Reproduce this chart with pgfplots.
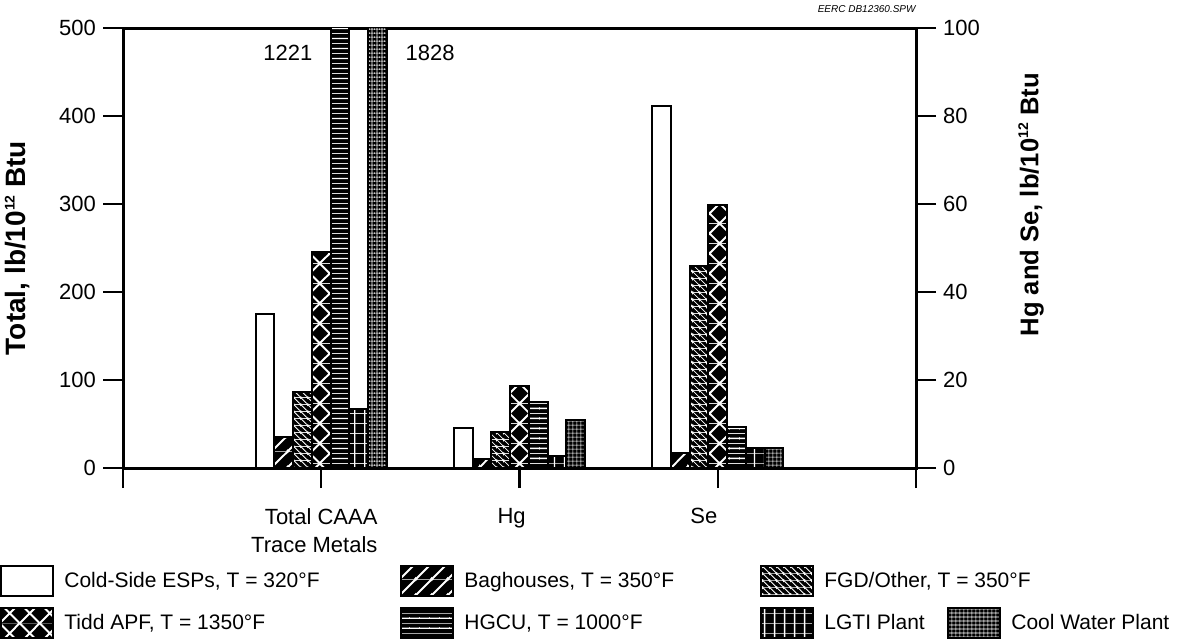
\documentclass[border=0pt]{standalone}
\usepackage{pgfplots}
\pgfplotsset{compat=1.18}
\usetikzlibrary{patterns}
\usepackage{fontspec}
\setmainfont{Liberation Sans}

% white-on-black patterns (inherently coloured)
\pgfdeclarepatterninherentlycolored{bagpat}{\pgfpointorigin}{\pgfpoint{8pt}{8pt}}{\pgfpoint{8pt}{8pt}}{%
  \pgfsetfillcolor{black}\pgfpathrectangle{\pgfpointorigin}{\pgfpoint{8pt}{8pt}}\pgfusepath{fill}%
  \pgfsetstrokecolor{white}\pgfsetlinewidth{1pt}%
  \pgfpathmoveto{\pgfpoint{-1pt}{-1pt}}\pgfpathlineto{\pgfpoint{9pt}{9pt}}%
  \pgfpathmoveto{\pgfpoint{-1pt}{7pt}}\pgfpathlineto{\pgfpoint{1pt}{9pt}}%
  \pgfpathmoveto{\pgfpoint{7pt}{-1pt}}\pgfpathlineto{\pgfpoint{9pt}{1pt}}%
  \pgfusepath{stroke}}
\pgfdeclarepatterninherentlycolored{fgdpat}{\pgfpointorigin}{\pgfpoint{3.5pt}{3.5pt}}{\pgfpoint{3.5pt}{3.5pt}}{%
  \pgfsetfillcolor{black}\pgfpathrectangle{\pgfpointorigin}{\pgfpoint{3.5pt}{3.5pt}}\pgfusepath{fill}%
  \pgfsetstrokecolor{white}\pgfsetlinewidth{0.45pt}%
  \pgfpathmoveto{\pgfpoint{-1pt}{4.5pt}}\pgfpathlineto{\pgfpoint{4.5pt}{-1pt}}%
  \pgfpathmoveto{\pgfpoint{-1pt}{1pt}}\pgfpathlineto{\pgfpoint{1pt}{-1pt}}%
  \pgfpathmoveto{\pgfpoint{2.5pt}{4.5pt}}\pgfpathlineto{\pgfpoint{4.5pt}{2.5pt}}%
  \pgfusepath{stroke}}
\pgfdeclarepatterninherentlycolored{tiddpat}{\pgfpointorigin}{\pgfpoint{10pt}{10pt}}{\pgfpoint{10pt}{10pt}}{%
  \pgfsetfillcolor{black}\pgfpathrectangle{\pgfpointorigin}{\pgfpoint{10pt}{10pt}}\pgfusepath{fill}%
  \pgfsetstrokecolor{white}\pgfsetlinewidth{1pt}%
  \pgfpathmoveto{\pgfpoint{-1pt}{-1pt}}\pgfpathlineto{\pgfpoint{11pt}{11pt}}%
  \pgfpathmoveto{\pgfpoint{-1pt}{11pt}}\pgfpathlineto{\pgfpoint{11pt}{-1pt}}%
  \pgfusepath{stroke}}
\pgfdeclarepatterninherentlycolored{hgcupat}{\pgfpointorigin}{\pgfpoint{5pt}{5pt}}{\pgfpoint{5pt}{5pt}}{%
  \pgfsetfillcolor{black}\pgfpathrectangle{\pgfpointorigin}{\pgfpoint{5pt}{5pt}}\pgfusepath{fill}%
  \pgfsetstrokecolor{white}\pgfsetlinewidth{0.7pt}%
  \pgfpathmoveto{\pgfpoint{-1pt}{2.5pt}}\pgfpathlineto{\pgfpoint{6pt}{2.5pt}}%
  \pgfusepath{stroke}}
\pgfdeclarepatterninherentlycolored{lgtipat}{\pgfpointorigin}{\pgfpoint{5pt}{5pt}}{\pgfpoint{5pt}{5pt}}{%
  \pgfsetfillcolor{black}\pgfpathrectangle{\pgfpointorigin}{\pgfpoint{5pt}{5pt}}\pgfusepath{fill}%
  \pgfsetstrokecolor{white}\pgfsetlinewidth{0.7pt}%
  \pgfpathmoveto{\pgfpoint{2.5pt}{-1pt}}\pgfpathlineto{\pgfpoint{2.5pt}{6pt}}%
  \pgfusepath{stroke}}
\pgfdeclarepatterninherentlycolored{coolpat}{\pgfpointorigin}{\pgfpoint{2.2pt}{2.2pt}}{\pgfpoint{2.2pt}{2.2pt}}{%
  \pgfsetfillcolor{black}\pgfpathrectangle{\pgfpointorigin}{\pgfpoint{2.2pt}{2.2pt}}\pgfusepath{fill}%
  \pgfsetstrokecolor{white}\pgfsetlinewidth{0.3pt}%
  \pgfpathmoveto{\pgfpoint{1.1pt}{-1pt}}\pgfpathlineto{\pgfpoint{1.1pt}{3.2pt}}%
  \pgfpathmoveto{\pgfpoint{-1pt}{1.1pt}}\pgfpathlineto{\pgfpoint{3.2pt}{1.1pt}}%
  \pgfusepath{stroke}}

\newcommand{\supt}{\raisebox{0.75ex}{\fontsize{7}{8}\selectfont 12}}

\pgfplotsset{
  mybar/.style={ybar, bar width=0.0943, bar shift=#1, draw=black, line width=1pt,
    legend image code/.code={\draw[##1] (0pt,-7.5pt) rectangle (26pt,7.5pt);}},
  esp/.style={mybar=-0.283, fill=white},
  bag/.style={mybar=-0.189, pattern=bagpat},
  fgd/.style={mybar=-0.0943, pattern=fgdpat},
  tidd/.style={mybar=0, pattern=tiddpat},
  hgcu/.style={mybar=0.0943, pattern=hgcupat},
  lgti/.style={mybar=0.189, pattern=lgtipat},
  cool/.style={mybar=0.283, pattern=coolpat},
  common/.style={
    at={(0,0)}, anchor=south west,
    scale only axis, width=396.5pt, height=220pt,
    xmin=0, xmax=4,
    tick align=outside, major tick length=10pt,
    axis line style={line width=1.5pt},
    tick style={black, line width=1.2pt},
    tick label style={font=\fontsize{11}{14}\selectfont},
    /pgf/number format/assume math mode=true,
    clip=true, clip mode=individual,
  },
}

\begin{document}
\begin{tikzpicture}
\begin{axis}[common,
  name=ax,
  ymin=0, ymax=500,
  ytick={0,100,200,300,400,500},
  xtick={0,1,2,3,4}, xticklabels={},
  extra x ticks={0.965,1.96,2.93},
  extra x tick labels={{Total CAAA\\Trace Metals},Hg,Se},
  extra x tick style={major tick length=0pt},
  xticklabel style={align=right, yshift=-16.5pt},
  ytick pos=left, xtick pos=bottom,
  every axis y label/.style={at={(axis description cs:-0.133,0.5)}, rotate=90, anchor=center},
  ylabel={\fontsize{14}{16}\selectfont\bfseries Total, lb/10\supt\ Btu},
  legend columns=4,
  legend cell align=left,
  legend style={at={(-0.1551,-0.2205)}, anchor=north west, draw=none, fill=none,
    inner sep=0pt, row sep=5pt, font=\fontsize{10.5}{12}\selectfont,
    /tikz/every odd column/.append style={column sep=3pt}},
]
\addplot[esp] coordinates {(1,175)};
\addplot[bag] coordinates {(1,35)};
\addplot[fgd] coordinates {(1,86)};
\addlegendimage{empty legend}
\addplot[tidd] coordinates {(1,246)};
\addplot[hgcu] coordinates {(1,1221)};
\addplot[lgti] coordinates {(1,67)};
\addplot[cool] coordinates {(1,1828)};
\legend{{\makebox[166pt][l]{Cold-Side ESPs, T = 320°F}},{\makebox[146pt][l]{Baghouses, T = 350°F}},{\rlap{FGD/Other, T = 350°F}},{\mbox{}},{\makebox[166pt][l]{Tidd APF, T = 1350°F}},{\makebox[146pt][l]{HGCU, T = 1000°F}},{\makebox[59.5pt][l]{LGTI Plant}},{Cool Water Plant}}
\node[font=\fontsize{11}{12}\selectfont] at (axis cs:0.832,471.6) {1221};
\node[font=\fontsize{11}{12}\selectfont] at (axis cs:1.549,471.6) {1828};
\node[anchor=base east, inner sep=0pt, font=\fontsize{5}{6}\selectfont\itshape, yshift=8pt] at (rel axis cs:1,1) {EERC DB12360.SPW};
\end{axis}
\begin{axis}[common,
  ymin=0, ymax=100,
  ytick={0,20,40,60,80,100},
  axis x line=none, axis y line*=right,
  every axis y label/.style={at={(axis description cs:1.145,0.598)}, rotate=90, anchor=center},
  ylabel={\fontsize{12.8}{15}\selectfont\bfseries Hg and Se, lb/10\supt\ Btu},
]
\addplot[esp] coordinates {(2,9.1) (3,82.3)};
\addplot[bag] coordinates {(2,2.0) (3,3.4)};
\addplot[fgd] coordinates {(2,8.2) (3,45.9)};
\addplot[tidd] coordinates {(2,18.6) (3,59.8)};
\addplot[hgcu] coordinates {(2,15.0) (3,9.3)};
\addplot[lgti] coordinates {(2,2.7) (3,4.5)};
\addplot[cool] coordinates {(2,10.9) (3,4.5)};
\end{axis}
\pgfresetboundingbox
\path[use as bounding box] (-61.5pt,-87pt) rectangle (539.5pt,234pt);
\end{tikzpicture}
\end{document}
